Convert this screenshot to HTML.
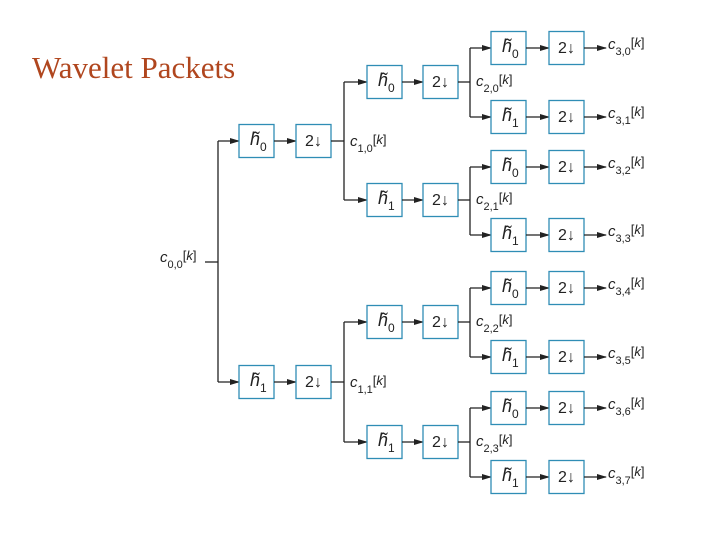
<!DOCTYPE html>
<html><head><style>
body{margin:0;background:#fff;}
svg{display:block}
.t{font-family:"Liberation Sans",sans-serif;font-size:15px;fill:#222}
.bx{fill:#fff;stroke:#2f8db5;stroke-width:1.3}
.ln{stroke:#222;stroke-width:1.3;fill:none}
</style></head><body>
<svg width="720" height="540" viewBox="0 0 720 540">
<defs><marker id="a" markerWidth="10" markerHeight="8" refX="9" refY="4" orient="auto" markerUnits="userSpaceOnUse"><path d="M0,1 L10,4 L0,7z" fill="#222"/></marker></defs>
<text x="32" y="78" style="font-family:'Liberation Serif',serif;font-size:31px;fill:#b0461e">Wavelet Packets</text>
<g id="g"></g>
</svg>
<script>
var g=document.getElementById('g'),s='';
function box(x,y,t){s+='<rect class="bx" x="'+x+'" y="'+(y-16.5)+'" width="35" height="33"/>';
 if(t=='d')s+='<text class="t" x="'+(x+17.5)+'" y="'+(y+5)+'" text-anchor="middle" style="font-size:16px">2↓</text>';
 else s+='<text class="t" x="'+(x+11)+'" y="'+(y+4)+'" style="font-style:italic;font-size:18px">h&#771;</text><text class="t" x="'+(x+21)+'" y="'+(y+10)+'" style="font-size:12px">'+t+'</text>';}
function ln(x1,y1,x2,y2,ar){s+='<line class="ln" x1="'+x1+'" y1="'+y1+'" x2="'+x2+'" y2="'+y2+'"'+(ar?' marker-end="url(#a)"':'')+'/>';}
function lab(x,y,a,b){s+='<text class="t" x="'+x+'" y="'+y+'"><tspan style="font-style:italic">c</tspan><tspan dy="6" style="font-size:11px">'+a+','+b+'</tspan><tspan dy="-8" style="font-size:13px">[<tspan style="font-style:italic">k</tspan>]</tspan></text>';}
function chain(x,y,i,xh,xd){ln(x,y,xh,y,1);box(xh,y,i);ln(xh+35,y,xd,y,1);box(xd,y,'d');}
lab(160,262,0,0);ln(205,262,218,262);ln(218,141,218,382);
[[141,0,0],[382,1,1]].forEach(function(r){var y=r[0];chain(218,y,r[1],239,296);ln(331,y,344,y);
 lab(350,y+5,1,r[2]);
 var c=r[2]?[322,442]:[82,200];ln(344,c[0],344,c[1]);
 c.forEach(function(y2,j){chain(344,y2,j,367,423);ln(458,y2,470,y2);
  var k=r[2]*2+j;lab(476,y2+4,2,k);
  var rows=[[48,117],[167,235],[288,357],[408,477]][k];ln(470,rows[0],470,rows[1]);
  rows.forEach(function(y3,m){chain(470,y3,m,491,549);ln(584,y3,606,y3,1);lab(608,y3+1,3,k*2+m);});
 });
});
g.innerHTML=s;
</script>
</body></html>
